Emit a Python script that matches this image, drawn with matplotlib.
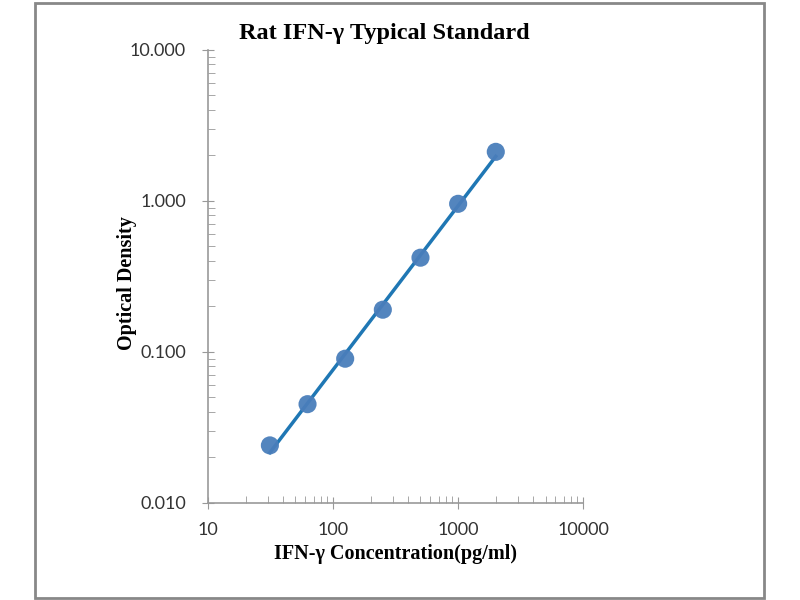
import matplotlib
matplotlib.use('Agg')
import matplotlib.pyplot as plt
import numpy as np
from matplotlib.patches import Rectangle
from matplotlib.ticker import LogLocator, FixedLocator, NullFormatter

# standard curve data
conc = [31.25, 62.5, 125, 250, 500, 1000, 2000]
od = [0.024, 0.045, 0.090, 0.190, 0.420, 0.955, 2.11]

x_ticks = [10, 100, 1000, 10000]
x_labels = ['10', '100', '1000', '10000']
y_ticks = [0.01, 0.1, 1, 10]
y_labels = ['0.010', '0.100', '1.000', '10.000']

# power trendline fitted in log space
b, a = np.polyfit(np.log10(conc), np.log10(od), 1)
xf = np.array([conc[0], conc[-1]])
yf = 10**a * xf**b

fig = plt.figure(figsize=(8, 6), dpi=100)
ax = fig.add_axes([0.26, 0.162, 0.469, 0.755])

ax.plot(xf, yf, color='#1f77b4', lw=2.5, zorder=2)
ax.scatter(conc, od, s=170, color='#4a7ebb', alpha=0.95, zorder=3, edgecolors='none')

ax.set_xscale('log')
ax.set_yscale('log')
ax.set_xlim(10, 10000)
ax.set_ylim(0.01, 10)

ax.xaxis.set_major_locator(FixedLocator(x_ticks))
ax.set_xticklabels(x_labels)
ax.yaxis.set_major_locator(FixedLocator(y_ticks))
ax.set_yticklabels(y_labels)
ax.xaxis.set_minor_locator(LogLocator(base=10, subs=np.arange(2, 10)))
ax.yaxis.set_minor_locator(LogLocator(base=10, subs=np.arange(2, 10)))
ax.xaxis.set_minor_formatter(NullFormatter())
ax.yaxis.set_minor_formatter(NullFormatter())

for s in ['top', 'right']:
    ax.spines[s].set_visible(False)
for s in ['left', 'bottom']:
    ax.spines[s].set_color('#999999')
    ax.spines[s].set_linewidth(1.2)

ax.tick_params(which='major', direction='inout', length=8, color='#999999',
               labelsize=13, labelcolor='#333333')
ax.tick_params(which='minor', direction='in', length=5, color='#999999')
ax.tick_params(axis='y', pad=12)
ax.tick_params(axis='x', pad=10)
for lab in ax.get_xticklabels() + ax.get_yticklabels():
    lab.set_family('Lato')

ax.set_title('Rat IFN-γ Typical Standard', family='Liberation Serif',
             fontweight='bold', fontsize=17.5, x=0.47, pad=8)
ax.set_xlabel('IFN-γ Concentration(pg/ml)', family='Liberation Serif',
              fontweight='bold', fontsize=14.5, labelpad=4)
ax.set_ylabel('Optical Density', family='Liberation Serif',
              fontweight='bold', fontsize=14.5)
ax.yaxis.set_label_coords(-0.188, 0.486)

fig.patches.append(Rectangle((35/800, 2/600), 729/800, 595/600, transform=fig.transFigure,
                             fill=False, edgecolor='#888888', lw=2))

fig.savefig('out.png', dpi=100)
